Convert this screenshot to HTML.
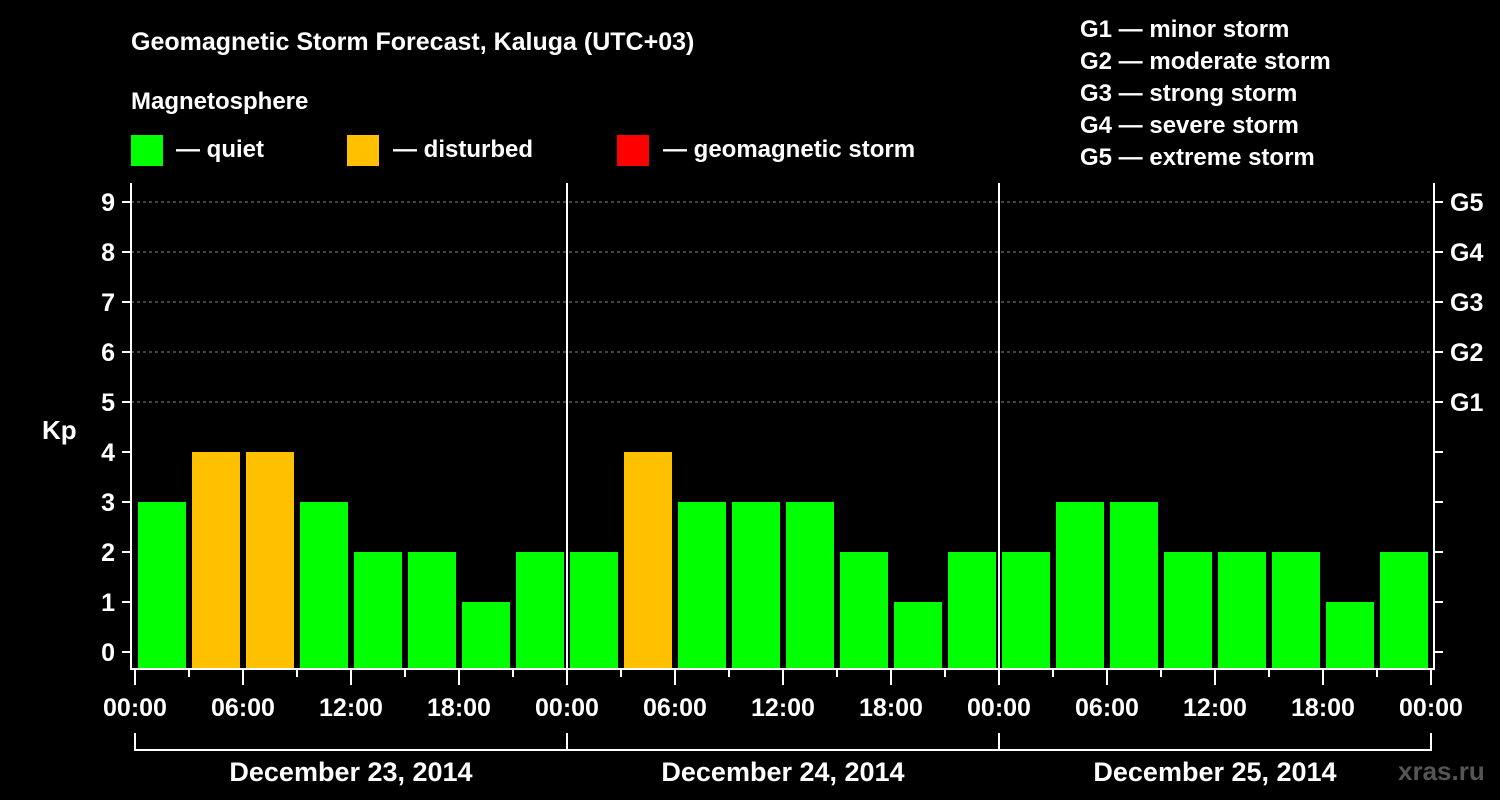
<!DOCTYPE html>
<html><head><meta charset="utf-8"><style>
body{margin:0;background:#000;width:1500px;height:800px;overflow:hidden}
svg{display:block;font-family:"Liberation Sans",Arial,sans-serif;font-weight:bold;fill:#fff}
</style></head><body>
<svg id="c" width="1500" height="800">
<text x="131" y="50" font-size="25">Geomagnetic Storm Forecast, Kaluga (UTC+03)</text>
<text x="131" y="109" font-size="24">Magnetosphere</text>
<g><rect x="131" y="135" width="32" height="31" fill="#00ff00"/><text x="176" y="157" font-size="24">— quiet</text></g>
<g><rect x="347" y="135" width="32" height="31" fill="#ffc000"/><text x="393" y="157" font-size="24">— disturbed</text></g>
<g><rect x="617" y="135" width="32" height="31" fill="#ff0000"/><text x="663" y="157" font-size="24">— geomagnetic storm</text></g>
<g font-size="24">
<text x="1080" y="37">G1 — minor storm</text><text x="1080" y="69">G2 — moderate storm</text><text x="1080" y="101">G3 — strong storm</text><text x="1080" y="133">G4 — severe storm</text><text x="1080" y="165">G5 — extreme storm</text></g>
<text x="42" y="439" font-size="26">Kp</text>
<text x="1398" y="780" font-size="26" fill="#555">xras.ru</text>
<g id="plot"></g>
</svg>
<script>
const kpValues=[3,4,4,3,2,2,1,2, 2,4,3,3,3,2,1,2, 2,3,3,2,2,2,1,2];
const yTicks=[0,1,2,3,4,5,6,7,8,9];
const gLabels=["G1","G2","G3","G4","G5"];
const dayLabels=["December 23, 2014","December 24, 2014","December 25, 2014"];
const hourLabels=["00:00","06:00","12:00","18:00"];
const ns="http://www.w3.org/2000/svg";
const g=document.getElementById("plot");
const X0=135,HW=18,Y0=652,YU=50,BOT=668,TOP=183,XR=1431;
const x=h=>X0+h*HW, y=v=>Y0-v*YU;
function el(t,a,p){const e=document.createElementNS(ns,t);for(const k in a)e.setAttribute(k,a[k]);(p||g).appendChild(e);return e;}
// grid
yTicks.forEach(v=>{if(v>=5){const l=el("line",{x1:131,x2:1434,y1:y(v),y2:y(v),stroke:"#888","stroke-dasharray":"3,3","stroke-width":1});

}});
// bars
kpValues.forEach((v,i)=>{const r=el("rect",{x:x(i*3)+3,y:y(v),width:3*HW-6,height:BOT-y(v),fill:v>=5?"#ff0000":(v>=4?"#ffc000":"#00ff00")});

});
// axes
const frame=el("path",{d:`M131 ${TOP}V669H1434V${TOP}`,stroke:"#fff","stroke-width":2,fill:"none"});


for(let d=1;d<3;d++){const l=el("line",{x1:x(d*24),x2:x(d*24),y1:TOP,y2:669,stroke:"#fff","stroke-width":2});

}
yTicks.forEach(v=>{el("line",{x1:122,x2:131,y1:y(v),y2:y(v),stroke:"#fff","stroke-width":2});
el("line",{x1:1434,x2:1443,y1:y(v),y2:y(v),stroke:"#fff","stroke-width":2});
const t=el("text",{x:115,y:y(v)+9,"text-anchor":"end","font-size":25});t.textContent=v;

});
gLabels.forEach((s,i)=>{const t=el("text",{x:1450,y:y(i+5)+9,"font-size":25});t.textContent=s;

});
for(let h=0;h<=72;h+=3){const maj=h%6==0;el("line",{x1:x(h),x2:x(h),y1:669,y2:maj?685:677,stroke:"#fff","stroke-width":2});
if(maj){const t=el("text",{x:x(h),y:716,"text-anchor":"middle","font-size":25});t.textContent=hourLabels[(h/6)%4];

}}
el("path",{d:`M${x(0)} 733V750H${x(72)}V733M${x(24)} 733V750M${x(48)} 733V750`,stroke:"#fff","stroke-width":2,fill:"none"});
dayLabels.forEach((s,i)=>{const t=el("text",{x:x(i*24+12),y:781,"text-anchor":"middle","font-size":27});t.textContent=s;

});
</script>
</body></html>
